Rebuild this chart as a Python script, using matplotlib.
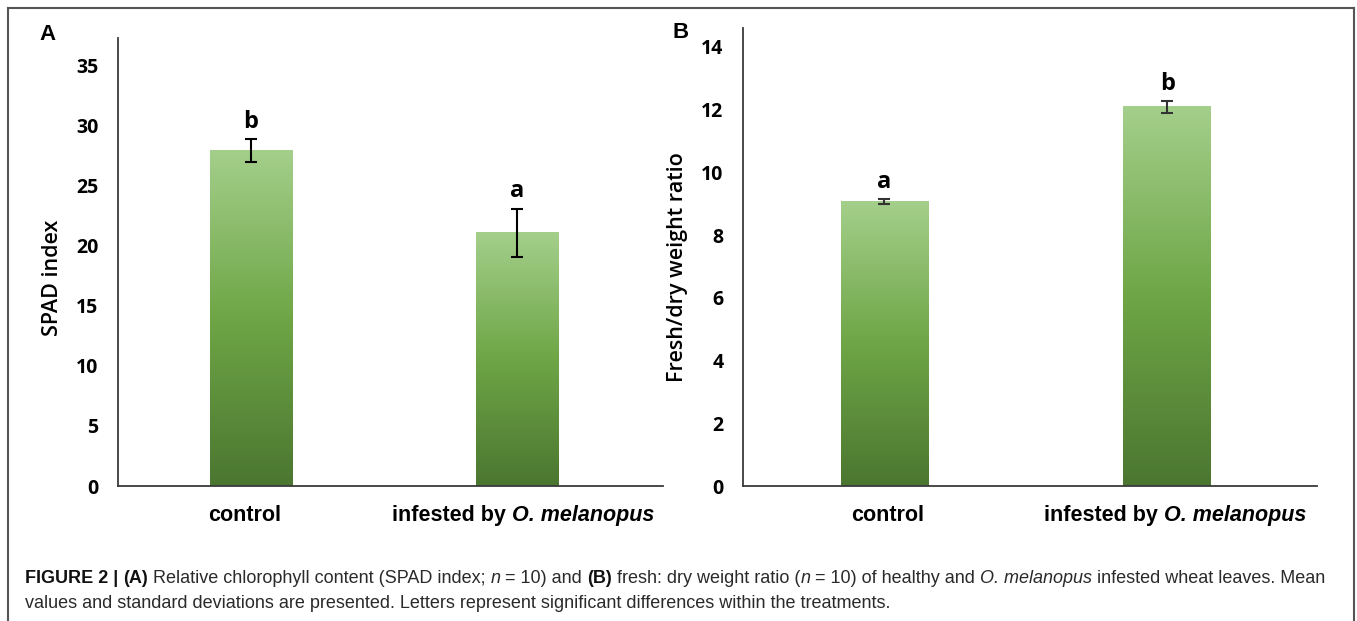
import matplotlib
import matplotlib.pyplot as plt
import numpy as np
from matplotlib.colors import LinearSegmentedColormap
from matplotlib.lines import Line2D
from matplotlib.transforms import IdentityTransform

matplotlib.use("Agg")

# Panel A: SPAD index
spad_mean = [27.9, 21.1]
spad_sd = [0.95, 2.0]
spad_letters = ["b", "a"]
spad_ticks = [0, 5, 10, 15, 20, 25, 30, 35]

# Panel B: fresh/dry weight ratio
ratio_mean = [9.06, 12.09]
ratio_sd = [0.08, 0.19]
ratio_letters = ["a", "b"]
ratio_ticks = [0, 2, 4, 6, 8, 10, 12, 14]

W, H = 1357, 621
fig = plt.figure(figsize=(W / 100, H / 100), dpi=100)
fig.patch.set_facecolor("white")

bar_cmap = LinearSegmentedColormap.from_list(
    "grn", ["#4b7630", "#6ea646", "#a4cf8b"])
grad = np.linspace(0, 1, 256).reshape(-1, 1)

TICK_FONT = dict(family="Open Sans", weight="bold", size=14)


def fx(px):
    return px / W


def fy(py):
    return 1 - py / H


def draw_panel(ax, means, sds, letters, ticks, ymax, xlim, width, ecolor):
    xs = np.arange(len(means))
    bars = ax.bar(xs, means, width=width, color="none", edgecolor="none", zorder=2)
    for rect in bars:
        x0, w, h = rect.get_x(), rect.get_width(), rect.get_height()
        ax.imshow(grad, extent=[x0, x0 + w, 0, h], origin="lower",
                  aspect="auto", cmap=bar_cmap, zorder=2)
    ax.errorbar(xs, means, yerr=sds, fmt="none", ecolor=ecolor,
                elinewidth=1.5, capsize=4, capthick=1.5, zorder=3)
    for x, m, s, let in zip(xs, means, sds, letters):
        ax.annotate(let, (x, m + s), xytext=(0, 8), textcoords="offset points",
                    ha="center", va="baseline", fontsize=17,
                    fontfamily="Open Sans", fontweight="bold")
    ax.set_xlim(*xlim)
    ax.set_ylim(0, ymax)
    ax.set_yticks(ticks)
    ax.set_xticks([])
    ax.tick_params(axis="y", length=0, pad=14)
    for lbl in ax.get_yticklabels():
        lbl.set_fontfamily(TICK_FONT["family"])
        lbl.set_fontweight(TICK_FONT["weight"])
        lbl.set_fontsize(TICK_FONT["size"])
    for side in ("top", "right"):
        ax.spines[side].set_visible(False)
    for side in ("left", "bottom"):
        ax.spines[side].set_color("#3a3a3a")
        ax.spines[side].set_linewidth(1.3)
    ax.set_facecolor("none")
    return xs


ax_a = fig.add_axes([fx(118), fy(486), (663 - 118) / W, (486 - 38) / H])
ax_b = fig.add_axes([fx(743), fy(486), (1317 - 743) / W, (486 - 28) / H])

xs_a = draw_panel(ax_a, spad_mean, spad_sd, spad_letters, spad_ticks,
                  37.3, (-0.5, 1.55), 0.31, "black")
xs_b = draw_panel(ax_b, ratio_mean, ratio_sd, ratio_letters, ratio_ticks,
                  14.6, (-0.5, 1.53), 0.31, "#333333")

renderer = fig.canvas.get_renderer()


def run_width(s, props):
    t = fig.text(0, 0, s + "|", transform=IdentityTransform(), **props)
    w = t.get_window_extent(renderer).width
    t.set_text("|")
    w -= t.get_window_extent(renderer).width
    t.remove()
    return w


def draw_runs(x, y, runs, common, ha="left"):
    widths = [run_width(s, {**common, **p}) for s, p in runs]
    if ha == "center":
        x -= sum(widths) / 2
    for (s, p), w in zip(runs, widths):
        fig.text(x, y, s, transform=IdentityTransform(), va="baseline",
                 **{**common, **p})
        x += w
    return sum(widths)


# category labels under the bars
cat_runs = [
    [("control", {})],
    [("infested by ", {}), ("O. melanopus", {"style": "italic"})],
]
cat_common = dict(family="Liberation Sans", weight="bold", size=15.5, color="black")
for ax, xs, offsets in ((ax_a, xs_a, [-6, 6]), (ax_b, xs_b, [3, 8])):
    for x, runs, off in zip(xs, cat_runs, offsets):
        px = ax.transData.transform((x, 0))[0] + off
        draw_runs(px, H - 521, runs, cat_common, ha="center")

# axis titles
fig.text(fx(53), fy(278), "SPAD index", rotation=90, ha="center", va="center",
         family="Open Sans", weight="semibold", size=15.5)
fig.text(fx(678), fy(267), "Fresh/dry weight ratio", rotation=90, ha="center",
         va="center", family="Open Sans", weight="semibold", size=15.5)

# panel letters
fig.text(fx(39), fy(35), "A", ha="left", va="center",
         family="Liberation Sans", weight="bold", size=16)
fig.text(fx(673), fy(33), "B", ha="left", va="center",
         family="Liberation Sans", weight="bold", size=16)

# caption
cap_common = dict(family="Liberation Sans", size=12.95, color="#2a2a2a")
B = {"weight": "bold", "color": "#111111"}
I = {"style": "italic"}
line1 = [
    ("FIGURE 2 | ", B), ("(A)", B),
    (" Relative chlorophyll content (SPAD index; ", {}), ("n", I),
    (" = 10) and ", {}), ("(B)", B), (" fresh: dry weight ratio (", {}),
    ("n", I), (" = 10) of healthy and ", {}), ("O. melanopus", I),
    (" infested wheat leaves. Mean", {}),
]
line2 = [("values and standard deviations are presented. Letters represent "
          "significant differences within the treatments.", {})]
draw_runs(25, H - 583, line1, cap_common)
draw_runs(25, H - 608, line2, cap_common)

# frame around the figure
frame = dict(color="#555555", linewidth=1.5)
fig.add_artist(Line2D([fx(8), fx(1354)], [fy(8), fy(8)], **frame))
fig.add_artist(Line2D([fx(8), fx(8)], [fy(8), 0], **frame))
fig.add_artist(Line2D([fx(1354), fx(1354)], [fy(8), 0], **frame))

fig.savefig("out.png", dpi=100)
plt.close(fig)
